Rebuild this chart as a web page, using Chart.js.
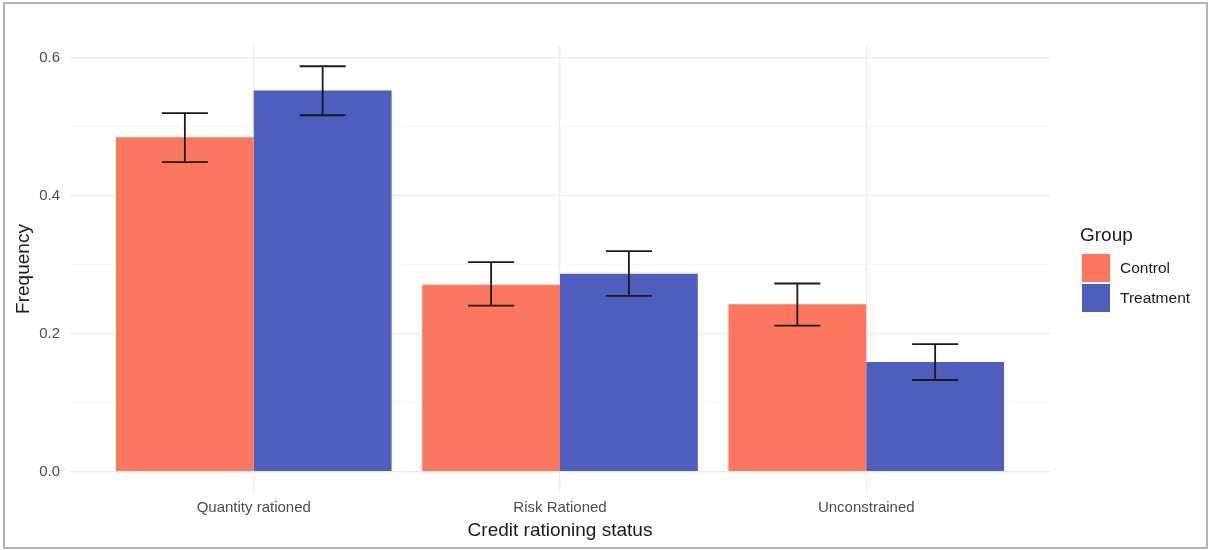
<!DOCTYPE html>
<html>
<head>
<meta charset="utf-8">
<script src="https://cdn.jsdelivr.net/npm/chart.js@4"></script>
<style>
  html, body { margin: 0; padding: 0; background: #fff; }
  #wrap { width: 1210px; height: 550px; position: relative; }
</style>
</head>
<body>
<div id="wrap"><canvas id="chart" width="1210" height="550"></canvas></div>
<script>
// data
const categories = ["Quantity rationed", "Risk Rationed", "Unconstrained"]
const groups = ["Control", "Treatment"]
const controlFreq = [0.485, 0.271, 0.243]
const treatmentFreq = [0.553, 0.287, 0.159]
const controlLow = [0.449, 0.241, 0.212]
const controlHigh = [0.520, 0.304, 0.273]
const treatmentLow = [0.517, 0.255, 0.133]
const treatmentHigh = [0.588, 0.320, 0.185]
const yTicks = [0, 0.1, 0.2, 0.3, 0.4, 0.5, 0.6]

const colors = ["#FB7760", "#4F5EBD"]
const gridMajor = "#ebebeb"
const gridMinor = "#f4f4f4"
const font = "Liberation Sans, Arial, sans-serif"

const datasets = [
  { label: groups[0], data: controlFreq.map((v, i) => ({ x: i + 1, y: v })), low: controlLow, high: controlHigh },
  { label: groups[1], data: treatmentFreq.map((v, i) => ({ x: i + 1, y: v })), low: treatmentLow, high: treatmentHigh },
].map((d, i) => ({
  ...d,
  backgroundColor: colors[i],
  borderWidth: 0,
  categoryPercentage: 0.9,
  barPercentage: 1.0,
  grouped: true,
}))

// error bars drawn from the scales
const errorBars = {
  id: "errorBars",
  afterDatasetsDraw(chart) {
    const { ctx, scales } = chart
    const capHalf = 23
    ctx.save()
    ctx.strokeStyle = "#1a1a1a"
    ctx.lineWidth = 1.8
    chart.data.datasets.forEach((ds, di) => {
      const meta = chart.getDatasetMeta(di)
      meta.data.forEach((bar, i) => {
        const x = bar.x
        const yl = scales.y.getPixelForValue(ds.low[i])
        const yh = scales.y.getPixelForValue(ds.high[i])
        ctx.beginPath()
        ctx.moveTo(x, yl); ctx.lineTo(x, yh)
        ctx.moveTo(x - capHalf, yl); ctx.lineTo(x + capHalf, yl)
        ctx.moveTo(x - capHalf, yh); ctx.lineTo(x + capHalf, yh)
        ctx.stroke()
      })
    })
    ctx.restore()
  },
}

// ggplot-like legend on the right, plus the outer frame
const sideLegend = {
  id: "sideLegend",
  afterDraw(chart) {
    const { ctx } = chart
    ctx.save()
    ctx.fillStyle = "#1a1a1a"
    ctx.font = "19px " + font
    ctx.textBaseline = "middle"
    ctx.textAlign = "left"
    ctx.fillText("Group", 1080, 236)
    chart.data.datasets.forEach((ds, i) => {
      const y = 254 + i * 30
      ctx.fillStyle = ds.backgroundColor
      ctx.fillRect(1082, y, 28, 28)
      ctx.fillStyle = "#1a1a1a"
      ctx.font = "15.5px " + font
      ctx.fillText(ds.label, 1120, y + 15)
    })
    ctx.strokeStyle = "#b4b4b4"
    ctx.lineWidth = 2
    ctx.strokeRect(4, 3, 1203, 545)
    ctx.restore()
  },
}

new Chart(document.getElementById("chart"), {
  type: "bar",
  data: { datasets: datasets },
  options: {
    responsive: false,
    animation: false,
    layout: { padding: { left: 0, top: 46, right: 160, bottom: 0 } },
    plugins: { legend: { display: false }, tooltip: { enabled: false } },
    scales: {
      x: {
        type: "linear",
        min: 0.4,
        max: 3.6,
        offset: false,
        afterBuildTicks: (s) => { s.ticks = categories.map((c, i) => ({ value: i + 1 })) },
        afterFit: (s) => { s.height = 58 },
        border: { display: false },
        grid: { color: gridMajor, lineWidth: 1.3, drawTicks: false, offset: false },
        ticks: {
          padding: 7,
          color: "#4d4d4d",
          font: { family: font, size: 15 },
          maxRotation: 0,
          callback: (v) => categories[Math.round(v) - 1],
        },
        title: {
          display: true,
          text: "Credit rationing status",
          color: "#1a1a1a",
          font: { family: font, size: 19 },
          padding: { top: 0, bottom: 8 },
        },
      },
      y: {
        min: -0.0294,
        max: 0.6174,
        afterBuildTicks: (s) => { s.ticks = yTicks.map((v) => ({ value: v })) },
        afterFit: (s) => { s.width = 70 },
        border: { display: false },
        grid: {
          drawTicks: false,
          color: (c) => (Math.round(c.tick.value * 10) % 2 === 0 ? gridMajor : gridMinor),
          lineWidth: (c) => (Math.round(c.tick.value * 10) % 2 === 0 ? 1.3 : 0.8),
        },
        ticks: {
          padding: 10,
          color: "#4d4d4d",
          font: { family: font, size: 15 },
          callback: (v) => (Math.round(v * 10) % 2 === 0 ? v.toFixed(1) : ""),
        },
        title: {
          display: true,
          text: "Frequency",
          color: "#1a1a1a",
          font: { family: font, size: 19 },
          padding: { top: 12, bottom: 0 },
        },
      },
    },
  },
  plugins: [errorBars, sideLegend],
})
</script>
</body>
</html>
